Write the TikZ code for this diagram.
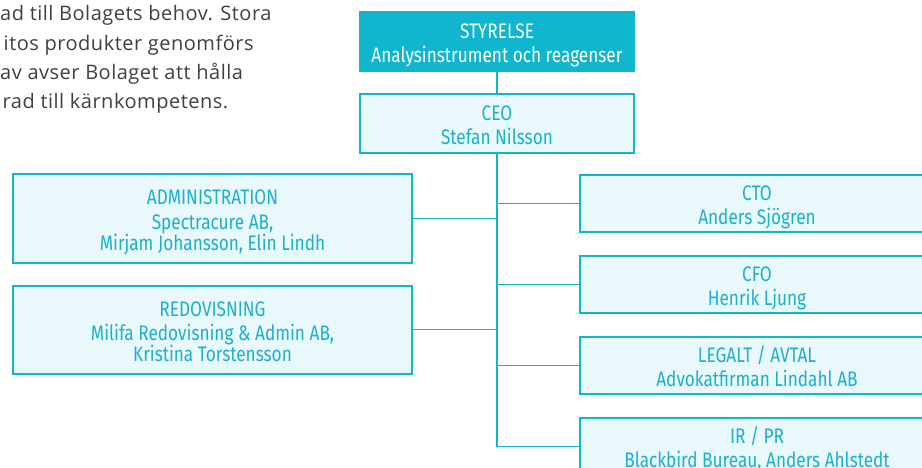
\documentclass[tikz,border=0pt]{standalone}
\usepackage{fontspec}
\setmainfont{Open Sans}
\newfontfamily\parafont[LetterSpace=2.5]{Open Sans}
\newfontfamily\boxfont[FakeStretch=0.82]{Fira Sans}
\newcommand\topstrut{\rule{0pt}{23.5pt}}
\newcommand\botstrut{\rule[-5.5pt]{0pt}{5.5pt}}
\definecolor{teal}{HTML}{10B5CE}
\definecolor{lightfill}{HTML}{E9F8FB}
\definecolor{tealtext}{HTML}{1BB1CB}
\definecolor{paratext}{HTML}{404040}
\tikzset{
  unitbox/.style={draw=teal, line width=2pt, fill=lightfill, text=tealtext,
    align=center, inner sep=0pt, font=\boxfont\fontsize{21}{24}\selectfont},
  topbox/.style={unitbox, fill=teal, text=white},
  leftbox/.style={unitbox, minimum width=399pt, minimum height=88pt,
    font=\boxfont\fontsize{21}{21}\selectfont},
  rightbox/.style={unitbox, minimum width=354pt, minimum height=57pt,
    font=\boxfont\fontsize{21}{24.5}\selectfont},
  midbox/.style={unitbox, minimum width=274pt, minimum height=59pt},
  link/.style={draw=teal, line width=1.7pt},
  para/.style={text=paratext, inner sep=0pt, anchor=base west,
    font=\parafont\fontsize{20}{29}\selectfont}
}
\begin{document}
\begin{tikzpicture}[x=1pt,y=-1pt]
\useasboundingbox (0,0) rectangle (922,468);
\clip (0,0) rectangle (922,468);

% paragraph fragment
\node[para] (p1) at (0,20.7) {ad till Bolagets behov. Stora};
\node[para] (p2) at (3.5,50.5) {itos produkter genomförs};
\node[para] (p3) at (0,80) {av avser Bolaget att hålla};
\node[para] (p4) at (2.5,109) {rad till kärnkompetens.};

% boxes
\node[midbox, topbox] (styr) at (497,42) {\topstrut STYRELSE\\Analysinstrument och reagenser\botstrut};
\node[midbox] (ceo) at (497,123.5) {\topstrut CEO\\Stefan Nilsson\botstrut};

\node[leftbox] (admin) at (212.5,218.5) {\topstrut ADMINISTRATION\\[4pt]Spectracure AB,\\Mirjam Johansson, Elin Lindh\botstrut};
\node[leftbox] (redov) at (212.5,329.5) {\topstrut REDOVISNING\\[3pt]Milifa Redovisning \& Admin AB,\\Kristina Torstensson\botstrut};

\node[rightbox] (cto) at (757,203.5) {\topstrut CTO\\Anders Sjögren\botstrut};
\node[rightbox] (cfo) at (757,284.5) {\topstrut CFO\\Henrik Ljung\botstrut};
\node[rightbox] (legal) at (757,365.5) {\topstrut LEGALT / AVTAL\\Advokatfirman Lindahl AB\botstrut};
\node[rightbox] (ir) at (757,446.5) {\topstrut IR / PR\\Blackbird Bureau, Anders Ahlstedt\botstrut};

% connectors
\coordinate (trunkend) at (ceo.south |- ir.west);
\draw[link] (styr.south) -- (ceo.north);
\draw[link] (ceo.south) -- (trunkend);
\foreach \b in {admin,redov} \draw[link] (\b.east) -- (\b.east -| ceo.south);
\foreach \b in {cto,cfo,legal,ir} \draw[link] (\b.west) -- (\b.west -| ceo.south);
\end{tikzpicture}
\end{document}
